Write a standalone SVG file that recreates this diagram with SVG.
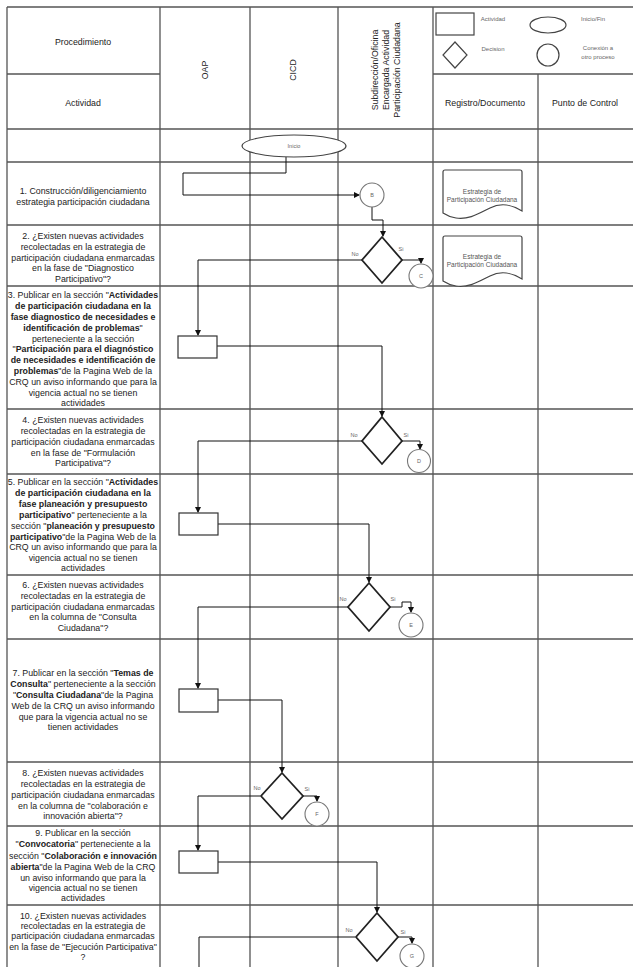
<svg xmlns="http://www.w3.org/2000/svg" width="633" height="967" viewBox="0 0 633 967">
<defs>
<marker id="arr" markerUnits="userSpaceOnUse" markerWidth="6" markerHeight="6" refX="5" refY="3" orient="auto">
<path d="M0,0 L6,3 L0,6 z" fill="#111"/>
</marker>
<style>
.grid{stroke:#555;stroke-width:1.3;fill:none}
.t{font-family:"Liberation Sans",Arial,sans-serif;font-size:8.8px;fill:#222;text-anchor:middle}
.b{font-weight:bold}
.lg{font-family:"Liberation Sans",Arial,sans-serif;font-size:6px;fill:#666;text-anchor:middle}
.sm{font-family:"Liberation Sans",Arial,sans-serif;font-size:5.5px;fill:#666;text-anchor:middle}
.doc{font-family:"Liberation Sans",Arial,sans-serif;font-size:6.5px;fill:#555;text-anchor:middle}
.act{fill:#fff;stroke:#333;stroke-width:1.2}
.dec{fill:#fff;stroke:#222;stroke-width:1.8}
.con{fill:#fff;stroke:#777;stroke-width:1.1}
.ln{fill:none;stroke:#111;stroke-width:1}
.shape{fill:#fff;stroke:#444;stroke-width:1.2}
</style>
</defs>
<rect x="0" y="0" width="633" height="967" fill="#fff"/>
<g id="grid">
<path class="grid" d="M7,7 H633 M7,7 V967 M160,7 V967 M250,7 V967 M338,7 V967 M433,7 V967 M538,74 V967 M7,74 H160 M433,74 H633 M7,129 H633 M7,162 H633 M7,225 H633 M7,286 H633 M7,409 H633 M7,474 H633 M7,575 H633 M7,639 H633 M7,762 H633 M7,826 H633 M7,905 H633"/>
</g>
<g id="header">
<text class="t" x="83" y="45">Procedimiento</text>
<text class="t" x="83" y="106">Actividad</text>
<text class="t" transform="translate(205,70) rotate(-90)" dominant-baseline="central">OAP</text>
<text class="t" transform="translate(293,70) rotate(-90)" dominant-baseline="central">CICD</text>
<text class="t" transform="translate(375,70) rotate(-90)" dominant-baseline="central">Subdirección/Oficina</text>
<text class="t" transform="translate(386,70) rotate(-90)" dominant-baseline="central">Encargada Actividad</text>
<text class="t" transform="translate(397,70) rotate(-90)" dominant-baseline="central">Participación Ciudadana</text>
<text class="t" x="485" y="106">Registro/Documento</text>
<text class="t" x="585" y="106">Punto de Control</text>
</g>
<g id="legend">
<rect class="shape" x="436" y="13" width="38" height="22"/>
<text class="lg" x="493" y="21">Actividad</text>
<ellipse class="shape" cx="548" cy="25" rx="18" ry="8"/>
<text class="lg" x="593" y="21">Inicio/Fin</text>
<polygon class="shape" points="455,42 467,55 455,68 443,55"/>
<text class="lg" x="493" y="51">Decision</text>
<circle class="shape" cx="548" cy="55" r="11"/>
<text class="lg" x="598" y="50">Conexión a</text>
<text class="lg" x="598" y="59">otro proceso</text>
</g>
<g id="activities">
<text class="t" x="83" y="194">1. Construcción/diligenciamiento</text>
<text class="t" x="83" y="205">estrategia participación ciudadana</text>

<text class="t" x="83" y="239">2. ¿Existen nuevas actividades</text>
<text class="t" x="83" y="250">recolectadas en la estrategia de</text>
<text class="t" x="83" y="261">participación ciudadana enmarcadas</text>
<text class="t" x="83" y="271">en la fase de "Diagnostico</text>
<text class="t" x="83" y="282">Participativo"?</text>

<text class="t" x="83" y="298">3. Publicar en la sección "<tspan class="b">Actividades</tspan></text>
<text class="t b" x="83" y="309">de participación ciudadana en la</text>
<text class="t b" x="83" y="320">fase diagnostico de necesidades e</text>
<text class="t" x="83" y="331"><tspan class="b">identificación de problemas</tspan>"</text>
<text class="t" x="83" y="342">perteneciente a la sección</text>
<text class="t" x="83" y="352">"<tspan class="b">Participación para el diagnóstico</tspan></text>
<text class="t b" x="83" y="363">de necesidades e identificación de</text>
<text class="t" x="83" y="374"><tspan class="b">problemas</tspan>"de la Pagina Web de la</text>
<text class="t" x="83" y="385">CRQ un aviso informando que para la</text>
<text class="t" x="83" y="396">vigencia actual no se tienen</text>
<text class="t" x="83" y="406">actividades</text>

<text class="t" x="83" y="423">4. ¿Existen nuevas actividades</text>
<text class="t" x="83" y="434">recolectadas en la estrategia de</text>
<text class="t" x="83" y="445">participación ciudadana enmarcadas</text>
<text class="t" x="83" y="456">en la fase de "Formulación</text>
<text class="t" x="83" y="466">Participativa"?</text>

<text class="t" x="83" y="485">5. Publicar en la sección "<tspan class="b">Actividades</tspan></text>
<text class="t b" x="83" y="496">de participación ciudadana en la</text>
<text class="t b" x="83" y="507">fase planeación y presupuesto</text>
<text class="t" x="83" y="518"><tspan class="b">participativo</tspan>" perteneciente a la</text>
<text class="t" x="83" y="529">sección "<tspan class="b">planeación y presupuesto</tspan></text>
<text class="t" x="83" y="540"><tspan class="b">participativo</tspan>"de la Pagina Web de la</text>
<text class="t" x="83" y="550">CRQ un aviso informando que para la</text>
<text class="t" x="83" y="561">vigencia actual no se tienen</text>
<text class="t" x="83" y="571">actividades</text>

<text class="t" x="83" y="588">6. ¿Existen nuevas actividades</text>
<text class="t" x="83" y="599">recolectadas en la estrategia de</text>
<text class="t" x="83" y="610">participación ciudadana enmarcadas</text>
<text class="t" x="83" y="620">en la columna de "Consulta</text>
<text class="t" x="83" y="631">Ciudadana"?</text>

<text class="t" x="83" y="676">7.  Publicar en la sección "<tspan class="b">Temas de</tspan></text>
<text class="t" x="83" y="687"><tspan class="b">Consulta</tspan>" perteneciente a la sección</text>
<text class="t" x="83" y="698">"<tspan class="b">Consulta Ciudadana</tspan>"de la Pagina</text>
<text class="t" x="83" y="709">Web de la CRQ un aviso informando</text>
<text class="t" x="83" y="720">que para la vigencia actual no se</text>
<text class="t" x="83" y="730">tienen actividades</text>

<text class="t" x="83" y="776">8. ¿Existen nuevas actividades</text>
<text class="t" x="83" y="787">recolectadas en la estrategia de</text>
<text class="t" x="83" y="798">participación ciudadana enmarcadas</text>
<text class="t" x="83" y="809">en la columna de "colaboración e</text>
<text class="t" x="83" y="819">innovación abierta"?</text>

<text class="t" x="83" y="836">9. Publicar en la sección</text>
<text class="t" x="83" y="847">"<tspan class="b">Convocatoria</tspan>" perteneciente a la</text>
<text class="t" x="83" y="859">sección "<tspan class="b">Colaboración e innovación</tspan></text>
<text class="t" x="83" y="870"><tspan class="b">abierta</tspan>"de la Pagina Web de la CRQ</text>
<text class="t" x="83" y="881">un aviso informando que para la</text>
<text class="t" x="83" y="891">vigencia actual no se tienen</text>
<text class="t" x="83" y="901">actividades</text>

<text class="t" x="83" y="919">10. ¿Existen nuevas actividades</text>
<text class="t" x="83" y="929">recolectadas en la estrategia de</text>
<text class="t" x="83" y="939">participación ciudadana enmarcadas</text>
<text class="t" x="83" y="950">en la fase de "Ejecución Participativa"</text>
<text class="t" x="83" y="960">?</text>
</g>
<g id="connectors">
<path class="ln" d="M286,157 V173 H183 V195 H359" marker-end="url(#arr)"/>
<path class="ln" d="M372,207 V220 H383 V236" marker-end="url(#arr)"/>
<path class="ln" d="M402,260 H421 V263" marker-end="url(#arr)"/>
<path class="ln" d="M362,260 H198 V335" marker-end="url(#arr)"/>
<path class="ln" d="M217,346 H382 V416" marker-end="url(#arr)"/>
<path class="ln" d="M402,441 H420 V449" marker-end="url(#arr)"/>
<path class="ln" d="M362,441 H198 V512" marker-end="url(#arr)"/>
<path class="ln" d="M218,524 H369 V582" marker-end="url(#arr)"/>
<path class="ln" d="M390,607 H402 V602 H411 V612" marker-end="url(#arr)"/>
<path class="ln" d="M348,607 H198 V688" marker-end="url(#arr)"/>
<path class="ln" d="M218,700 H282 V772" marker-end="url(#arr)"/>
<path class="ln" d="M303,796 H317 V801" marker-end="url(#arr)"/>
<path class="ln" d="M260,796 H198 V850" marker-end="url(#arr)"/>
<path class="ln" d="M218,862 H377 V912" marker-end="url(#arr)"/>
<path class="ln" d="M398,937 H412 V943" marker-end="url(#arr)"/>
<path class="ln" d="M355,937 H199 V967"/>
<text class="sm" x="355" y="256">No</text>
<text class="sm" x="401" y="251">Si</text>
<text class="sm" x="354" y="437">No</text>
<text class="sm" x="406" y="437">Si</text>
<text class="sm" x="343" y="601">No</text>
<text class="sm" x="393" y="601">Si</text>
<text class="sm" x="257" y="790">No</text>
<text class="sm" x="307" y="791">Si</text>
<text class="sm" x="349" y="932">No</text>
<text class="sm" x="403" y="934">Si</text>
</g>
<g id="inicio">
<ellipse class="shape" cx="294" cy="146" rx="52" ry="11"/>
<text class="sm" x="294" y="148">Inicio</text>
</g>
<g id="conB"><circle class="con" cx="372" cy="195" r="12"/><text class="sm" x="372" y="197">B</text></g>
<g id="dec2"><polygon class="dec" points="382,237 402,260 382,283 362,260"/></g>
<g id="conC"><circle class="con" cx="421" cy="276" r="12"/><text class="sm" x="421" y="278">C</text></g>
<g id="act3"><rect class="act" x="178" y="336" width="39" height="22"/></g>
<g id="dec4"><polygon class="dec" points="382,417 402,441 382,464 362,441"/></g>
<g id="conD"><circle class="con" cx="419" cy="461" r="11.5"/><text class="sm" x="419" y="463">D</text></g>
<g id="act5"><rect class="act" x="179" y="513" width="39" height="22"/></g>
<g id="dec6"><polygon class="dec" points="369,583 390,607 369,631 348,607"/></g>
<g id="conE"><circle class="con" cx="411" cy="625" r="12"/><text class="sm" x="411" y="627">E</text></g>
<g id="act7"><rect class="act" x="179" y="689" width="39" height="23"/></g>
<g id="dec8"><polygon class="dec" points="282,773 303,796 282,819 261,796"/></g>
<g id="conF"><circle class="con" cx="317" cy="814" r="12"/><text class="sm" x="317" y="816">F</text></g>
<g id="act9"><rect class="act" x="179" y="851" width="39" height="22"/></g>
<g id="dec10"><polygon class="dec" points="377,913 398,937 377,961 356,937"/></g>
<g id="conG"><circle class="con" cx="412" cy="956" r="12"/><text class="sm" x="412" y="958">G</text></g>
<g id="doc1">
<path class="shape" d="M443,172 Q443,170 445,170 H520 Q522,170 522,172 V211 C512,205 502,202 490,208 C478,214 468,220 456,218 C450,217 446,215 443,213 Z"/>
<text class="doc" x="482" y="194">Estrategia de</text>
<text class="doc" x="482" y="202">Participación Ciudadana</text>
</g>
<g id="doc2">
<path class="shape" d="M443,238 Q443,236 445,236 H520 Q522,236 522,238 V279 C512,273 502,270 490,276 C478,282 468,288 456,286 C450,285 446,283 443,281 Z"/>
<text class="doc" x="482" y="259">Estrategia de</text>
<text class="doc" x="482" y="267">Participación Ciudadana</text>
</g>
</svg>
